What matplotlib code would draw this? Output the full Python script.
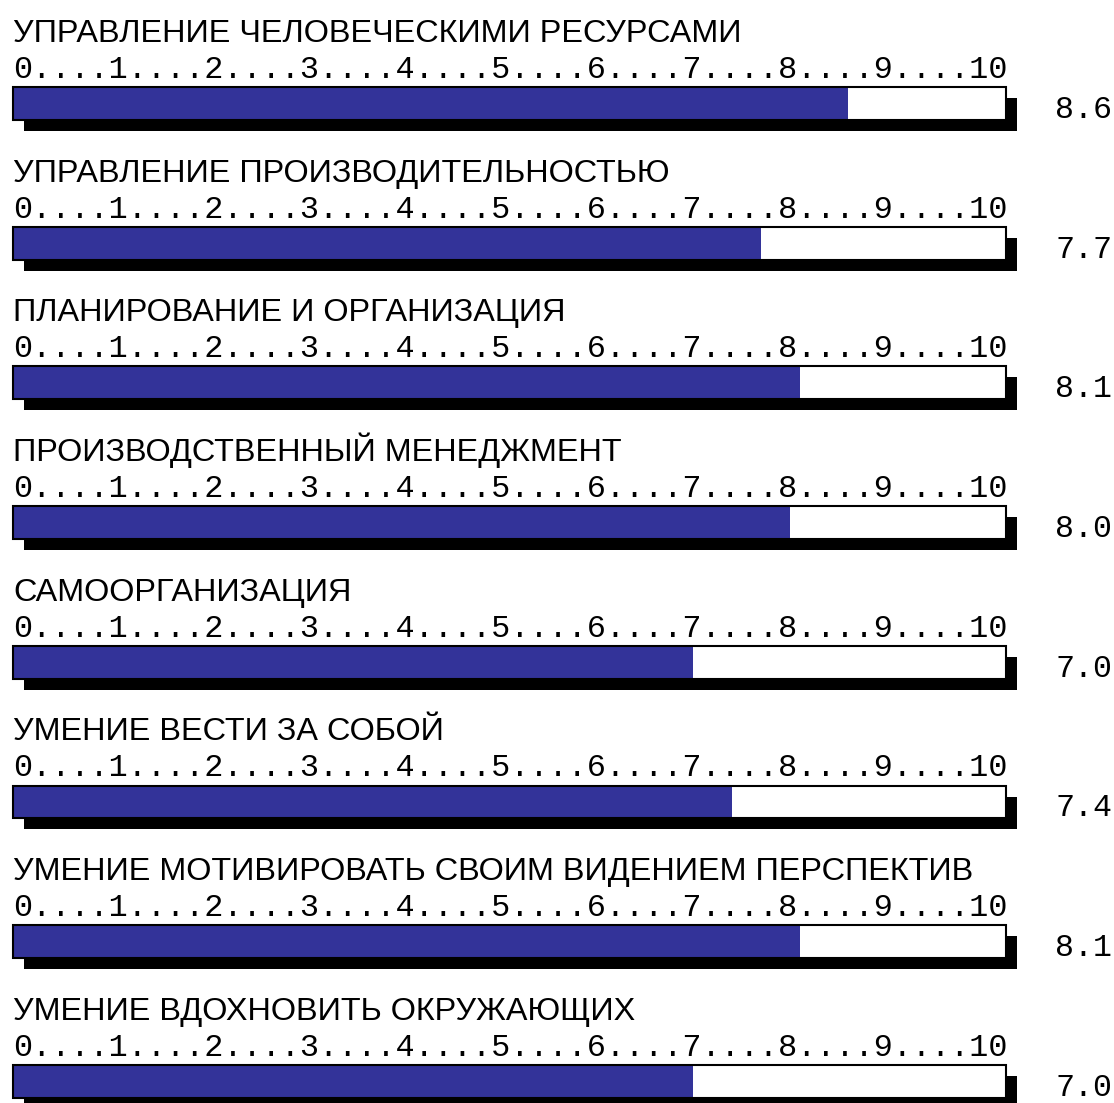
import matplotlib
matplotlib.use('Agg')
import matplotlib.pyplot as plt

# competence scores, 0..10
categories = [
    'УПРАВЛЕНИЕ ЧЕЛОВЕЧЕСКИМИ РЕСУРСАМИ',
    'УПРАВЛЕНИЕ ПРОИЗВОДИТЕЛЬНОСТЬЮ',
    'ПЛАНИРОВАНИЕ И ОРГАНИЗАЦИЯ',
    'ПРОИЗВОДСТВЕННЫЙ МЕНЕДЖМЕНТ',
    'САМООРГАНИЗАЦИЯ',
    'УМЕНИЕ ВЕСТИ ЗА СОБОЙ',
    'УМЕНИЕ МОТИВИРОВАТЬ СВОИМ ВИДЕНИЕМ ПЕРСПЕКТИВ',
    'УМЕНИЕ ВДОХНОВИТЬ ОКРУЖАЮЩИХ',
]
scores = [8.6, 7.7, 8.1, 8.0, 7.0, 7.4, 8.1, 7.0]
scale_max = 10
ticks = list(range(0, scale_max + 1))

W, H = 1114, 1103
fig = plt.figure(figsize=(W / 100, H / 100), dpi=100)

# axes: x 0..10, y in group units
unit = 97.1   # px per score point
ax = fig.add_axes([13 / W, 0, unit * scale_max / W, 1])
step = 139.7  # px per group
y0 = 103.5    # px of first bar centre
ax.set_xlim(0, scale_max)
ax.set_ylim((H - y0) / step, -y0 / step)
ax.axis('off')

frame_w = 993 / unit   # the frame runs a bit past 10
bar_h = 33 / step
sdx = 11 / unit
sdy = 11 / step
blue = '#333399'
ruler = '....'.join(str(t) for t in ticks)

for i, (name, val) in enumerate(zip(categories, scores)):
    # shadow
    ax.barh(i + sdy, frame_w, left=sdx, height=bar_h, color='black',
            clip_on=False, zorder=1)
    ax.barh(i, frame_w, height=bar_h, color='white', clip_on=False, zorder=2)
    ax.barh(i, val, height=bar_h, color=blue, zorder=3)
    ax.barh(i, frame_w, height=bar_h, fill=False, edgecolor='black',
            linewidth=1.5, clip_on=False, zorder=4)
    ax.text(0, i - 61.5 / step, name, family='Liberation Sans', fontsize=23.3,
            va='baseline', ha='left', color='black')
    ax.text(0, i - 25.5 / step, ruler, family='Liberation Mono', fontsize=22.95,
            va='baseline', ha='left', color='black', clip_on=False)
    ax.text(1042 / unit, i + 14.5 / step, f'{val:.1f}', family='Liberation Mono',
            fontsize=22.8, va='baseline', ha='left', color='black', clip_on=False)

fig.savefig('out.png', dpi=100)
